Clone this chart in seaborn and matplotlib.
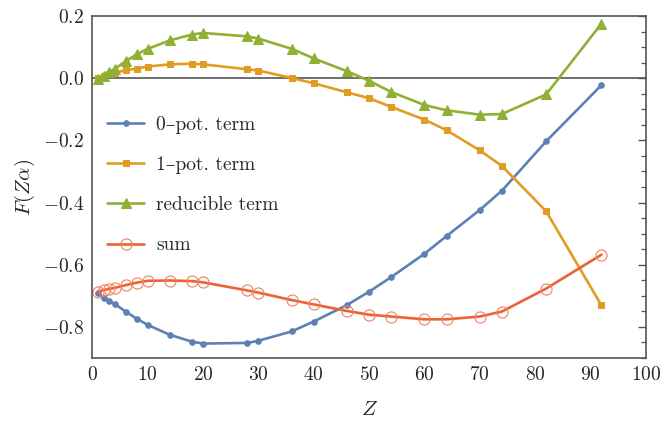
import matplotlib
matplotlib.use('Agg')
import matplotlib.pyplot as plt
import pandas as pd
import seaborn as sns
from matplotlib.ticker import MultipleLocator

# Z values shared by all four series
z_vals = [1, 2, 3, 4, 6, 8, 10, 14, 18, 20, 28, 30, 36, 40, 46, 50, 54, 60, 64, 70, 74, 82, 92]

zero_pot = [-0.692, -0.706, -0.717, -0.726, -0.751, -0.774, -0.794, -0.826, -0.848, -0.854,
            -0.852, -0.845, -0.815, -0.783, -0.730, -0.687, -0.640, -0.565, -0.508, -0.424,
            -0.362, -0.203, -0.022]
one_pot = [0.002, 0.008, 0.013, 0.018, 0.026, 0.031, 0.038, 0.045, 0.047, 0.045,
           0.029, 0.025, 0.001, -0.016, -0.045, -0.064, -0.092, -0.133, -0.167, -0.232,
           -0.282, -0.428, -0.731]
reducible = [-0.002, 0.009, 0.020, 0.030, 0.055, 0.077, 0.095, 0.122, 0.141, 0.146,
             0.135, 0.128, 0.095, 0.064, 0.023, -0.008, -0.044, -0.086, -0.103, -0.117,
             -0.115, -0.052, 0.176]
total = [-0.687, -0.682, -0.678, -0.675, -0.666, -0.658, -0.652, -0.651, -0.653, -0.657,
         -0.683, -0.690, -0.714, -0.728, -0.749, -0.761, -0.767, -0.776, -0.776, -0.767,
         -0.751, -0.677, -0.568]

labels = ['0–pot. term', '1–pot. term', 'reducible term', 'sum']

sns.set_style('white')
plt.rcParams['font.family'] = ['cmr10', 'DejaVu Serif']
plt.rcParams['mathtext.fontset'] = 'cm'
plt.rcParams['axes.formatter.use_mathtext'] = True

df = pd.DataFrame({'Z': z_vals, 'zero': zero_pot, 'one': one_pot,
                   'red': reducible, 'sum': total})

fig = plt.figure(figsize=(6.65, 4.26), dpi=100)
ax = fig.add_axes([0.139, 0.160, 0.832, 0.802])

ax.axhline(0, color='#555555', lw=1.2, zorder=1)

sns.lineplot(data=df, x='Z', y='zero', ax=ax, color='#5E81B5', lw=1.9,
             marker='o', ms=4, mec='#5E81B5', mfc='#5E81B5', label=labels[0])
sns.lineplot(data=df, x='Z', y='one', ax=ax, color='#E19C24', lw=1.9,
             marker='s', ms=5, mec='#E19C24', mfc='#E19C24', label=labels[1])
sns.lineplot(data=df, x='Z', y='red', ax=ax, color='#8FB032', lw=1.9,
             marker='^', ms=6.5, mec='#8FB032', mfc='#8FB032', label=labels[2])
sns.lineplot(data=df, x='Z', y='sum', ax=ax, color='#EB6235', lw=1.9,
             marker='o', ms=8, mec='#F08060', mfc='none', mew=0.8, label=labels[3])

ax.set_xlim(0, 100)
ax.set_ylim(-0.9, 0.2)
ax.xaxis.set_major_locator(MultipleLocator(10))
ax.yaxis.set_major_locator(MultipleLocator(0.2))
ax.yaxis.set_minor_locator(MultipleLocator(0.05))
ax.yaxis.set_major_formatter(plt.FuncFormatter(lambda v, p: f'${v:.1f}$'))

ax.tick_params(axis='both', which='both', direction='in', color='#555555',
               labelsize=14, top=False, right=True)
ax.tick_params(axis='both', which='major', length=6, width=1.0, pad=6)
ax.tick_params(axis='y', which='minor', length=3.5, width=0.9)
for s in ax.spines.values():
    s.set_color('#555555')
    s.set_linewidth(1.2)

ax.set_xlabel(r'$Z$', fontsize=15, labelpad=12)
ax.set_ylabel(r'$F(Z\alpha)$', fontsize=15, labelpad=4)

ax.legend(loc='center left', bbox_to_anchor=(0.027, 0.506), frameon=False,
          fontsize=14, handlelength=1.9, handletextpad=0.6, labelspacing=1.15,
          borderpad=0, borderaxespad=0)

fig.savefig('out.png', dpi=100)
